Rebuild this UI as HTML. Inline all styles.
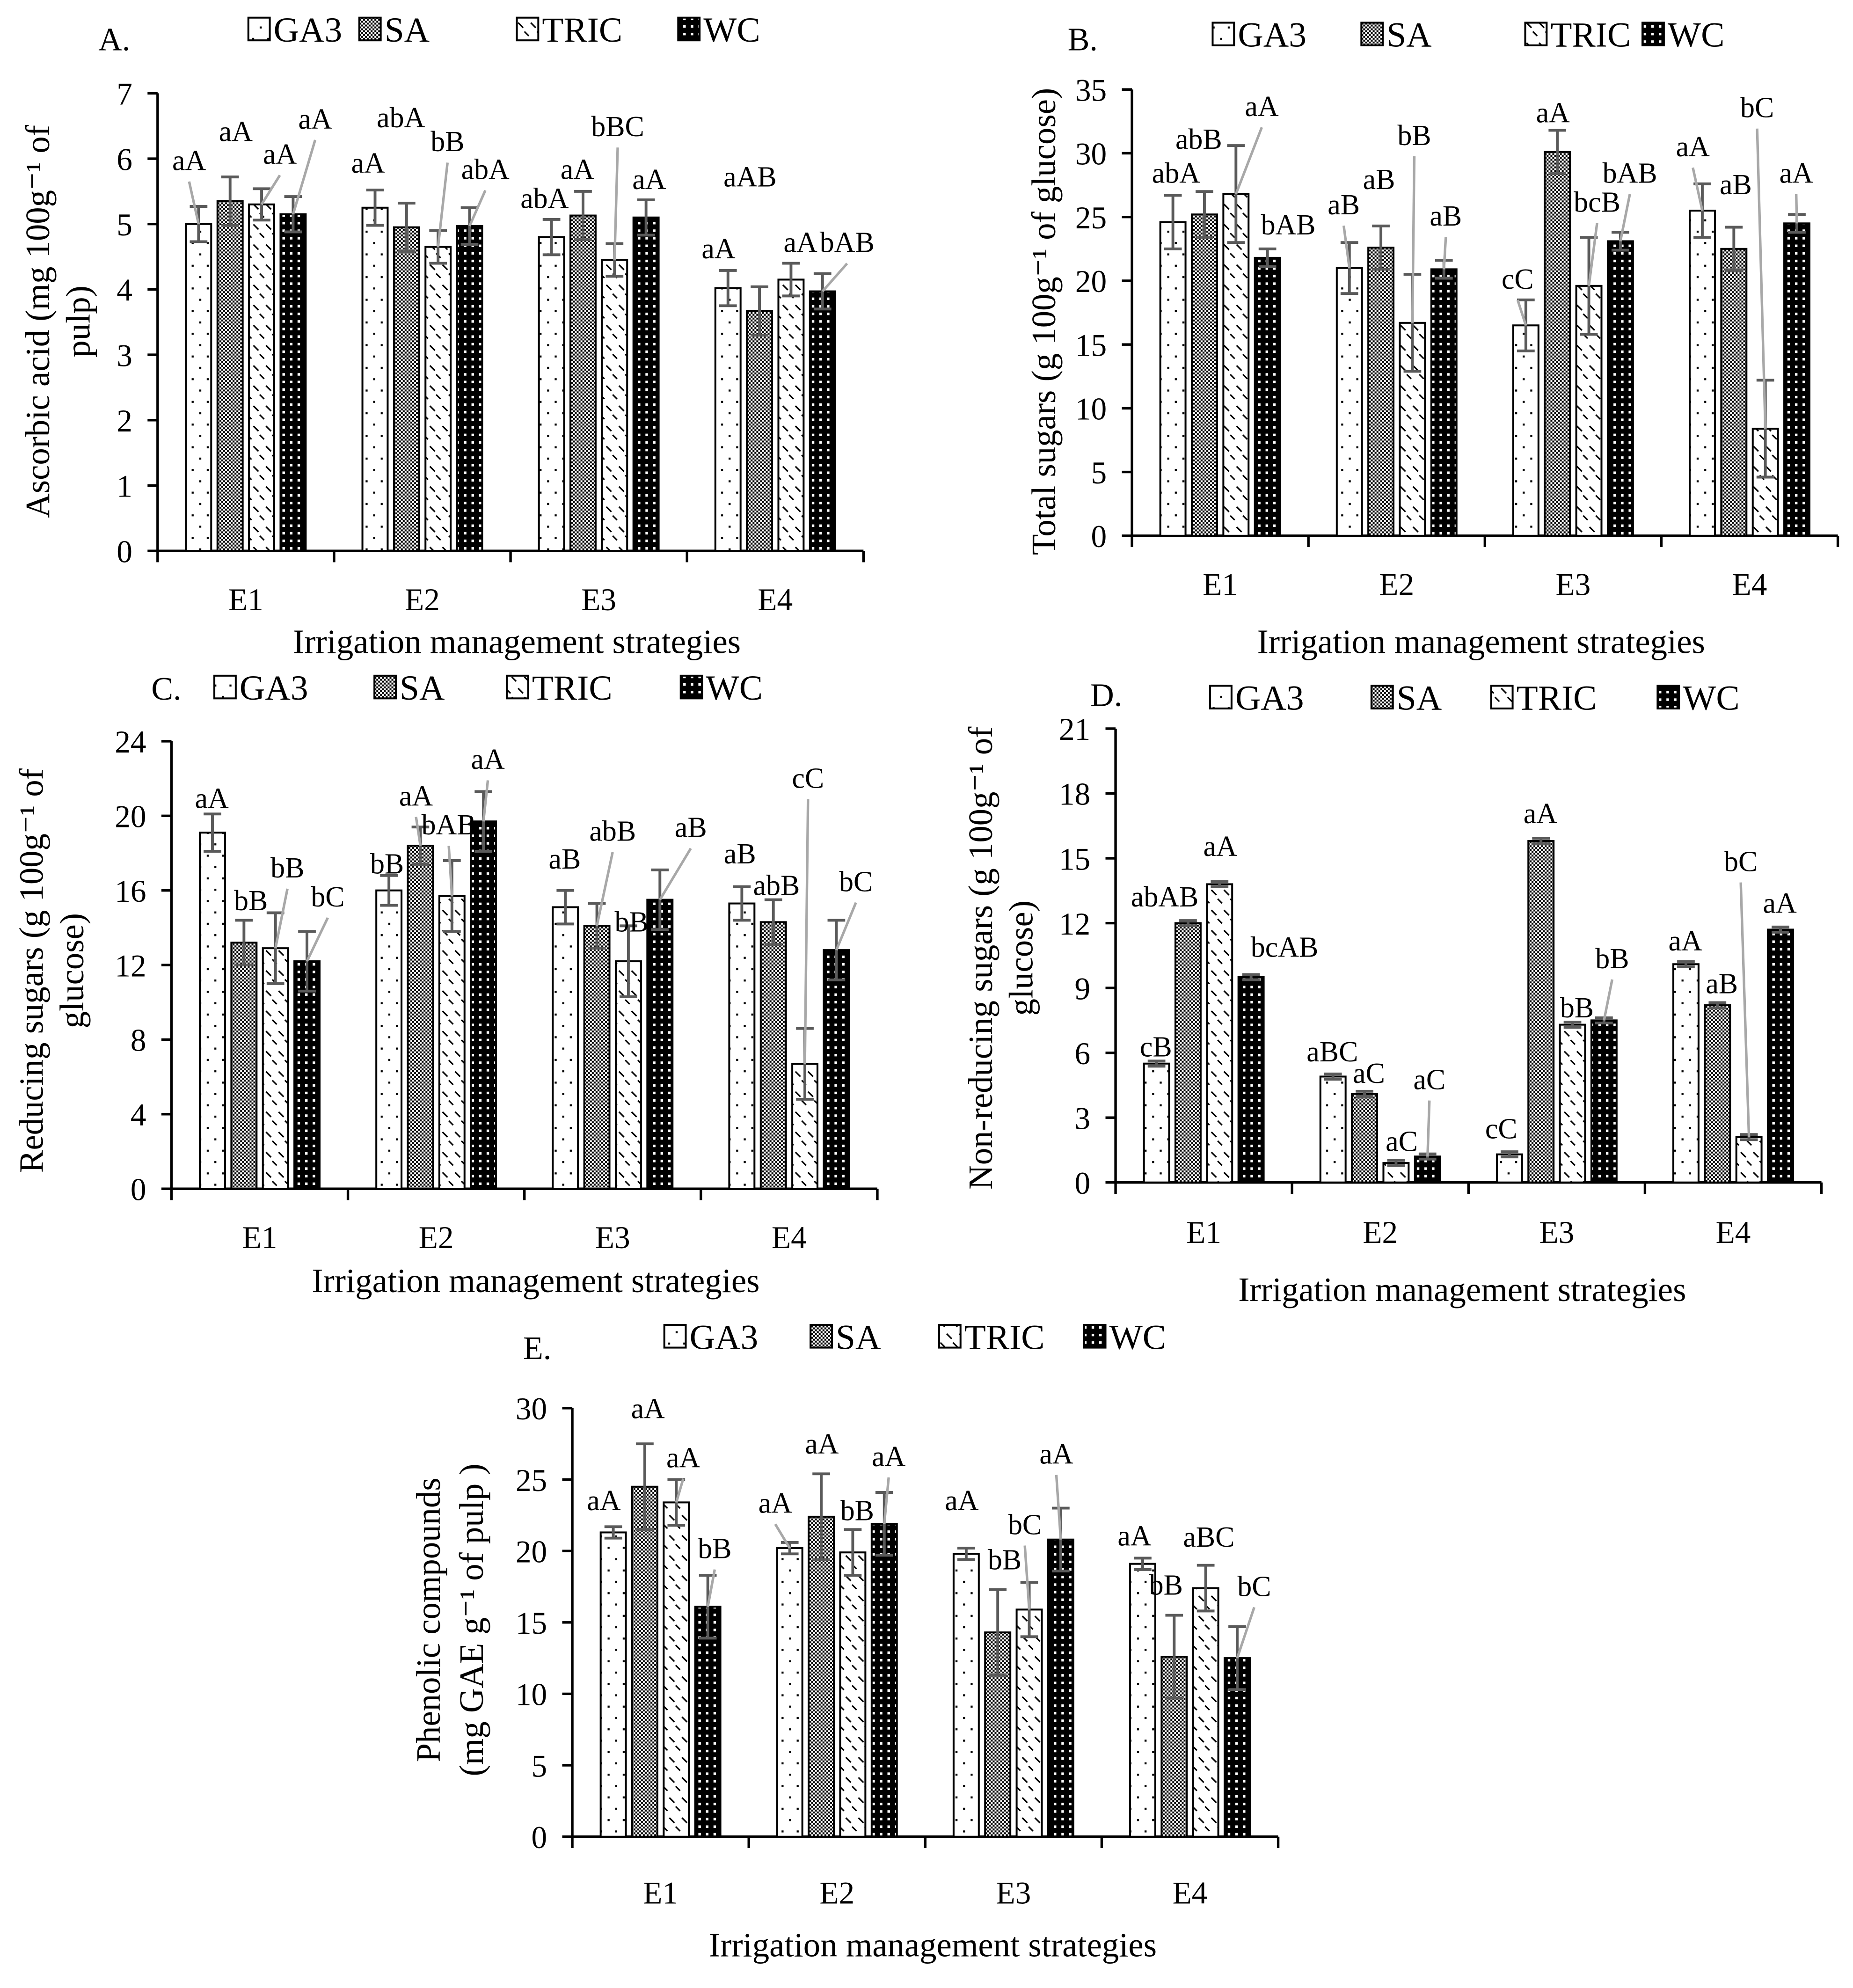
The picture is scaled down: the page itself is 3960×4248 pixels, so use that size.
<!DOCTYPE html>
<html><head><meta charset="utf-8">
<style>
html,body{margin:0;padding:0;background:#fff;}
svg{display:block;}
text{font-family:"Liberation Serif","DejaVu Serif",serif;fill:#000;}
</style></head>
<body>
<svg id="fig" width="3960" height="4248" viewBox="0 0 1470 1577" xmlns="http://www.w3.org/2000/svg">
<defs>
<pattern id="p-ga3" patternUnits="userSpaceOnUse" width="12" height="18"><rect width="12" height="18" fill="#fff"/><rect x="2" y="3" width="1.6" height="1.6" fill="#000"/><rect x="8" y="12" width="1.6" height="1.6" fill="#000"/></pattern>
<pattern id="p-sa" patternUnits="userSpaceOnUse" width="3" height="3"><rect width="3" height="3" fill="#fff"/><rect width="1.5" height="1.5" fill="#000"/><rect x="1.5" y="1.5" width="1.5" height="1.5" fill="#000"/></pattern>
<pattern id="p-tric" patternUnits="userSpaceOnUse" width="10" height="16"><rect width="10" height="16" fill="#fff"/><path d="M1 2 L5 6 M6 9 L9.5 12.5" stroke="#000" stroke-width="1.2"/></pattern>
<pattern id="p-wc" patternUnits="userSpaceOnUse" width="6" height="6"><rect width="6" height="6" fill="#000"/><rect x="2" y="2" width="2" height="2" fill="#fff"/></pattern>
</defs>
</svg>
<script>
const seriesNames = ["GA3","SA","TRIC","WC"];
const categories = ["E1","E2","E3","E4"];

const aValues = [[5.0,5.35,5.3,5.15],[5.25,4.95,4.65,4.97],[4.8,5.13,4.45,5.1],[4.02,3.67,4.15,3.97]];
const aErrors = [[0.27,0.37,0.24,0.27],[0.27,0.37,0.25,0.28],[0.27,0.37,0.25,0.27],[0.27,0.37,0.25,0.27]];
const aLetters = [["aA","aA","aA","aA"],["aA","abA","bB","abA"],["abA","aA","bBC","aA"],["aA","aAB","aA","bAB"]];
const aTicks = [0,1,2,3,4,5,6,7];

const bValues = [[24.6,25.2,26.8,21.8],[21.0,22.6,16.7,20.9],[16.5,30.1,19.6,23.1],[25.5,22.5,8.4,24.5]];
const bErrors = [[2.1,1.8,3.8,0.7],[2.0,1.7,3.8,0.7],[2.0,1.7,3.8,0.7],[2.1,1.7,3.8,0.7]];
const bLetters = [["abA","abB","aA","bAB"],["aB","aB","bB","aB"],["cC","aA","bcB","bAB"],["aA","aB","bC","aA"]];
const bTicks = [0,5,10,15,20,25,30,35];

const cValues = [[19.1,13.2,12.9,12.2],[16.0,18.4,15.7,19.7],[15.1,14.1,12.2,15.5],[15.3,14.3,6.7,12.8]];
const cErrors = [[1.0,1.2,1.9,1.6],[0.8,1.0,1.9,1.6],[0.9,1.2,1.9,1.6],[0.9,1.2,1.9,1.6]];
const cLetters = [["aA","bB","bB","bC"],["bB","aA","bAB","aA"],["aB","abB","bB","aB"],["aB","abB","cC","bC"]];
const cTicks = [0,4,8,12,16,20,24];

const dValues = [[5.5,12.0,13.8,9.5],[4.9,4.1,0.9,1.2],[1.3,15.8,7.3,7.5],[10.1,8.2,2.1,11.7]];
const dErrors = [[0.12,0.12,0.12,0.12],[0.12,0.12,0.12,0.12],[0.12,0.12,0.12,0.12],[0.12,0.12,0.12,0.12]];
const dLetters = [["cB","abAB","aA","bcAB"],["aBC","aC","aC","aC"],["cC","aA","bB","bB"],["aA","aB","bC","aA"]];
const dTicks = [0,3,6,9,12,15,18,21];

const eValues = [[21.3,24.5,23.4,16.1],[20.2,22.4,19.9,21.9],[19.8,14.3,15.9,20.8],[19.1,12.6,17.4,12.5]];
const eErrors = [[0.4,3.0,1.6,2.2],[0.4,3.0,1.6,2.2],[0.4,3.0,1.9,2.2],[0.4,2.9,1.6,2.2]];
const eLetters = [["aA","aA","aA","bB"],["aA","aA","bB","aA"],["aA","bB","bC","aA"],["aA","bB","aBC","bC"]];
const eTicks = [0,5,10,15,20,25,30];

// layout (label anchor positions in px, leader flag) — not data
const layouts = {
 a:{x0:125,y0:437,yTop:74,max:7,lab:[[[150,135,1],[187,112,0],[222,130,1],[250,102,1]],[[292,137,0],[318,101,0],[355,120,1],[385,142,1]],[[432,165,0],[458,142,0],[490,108,1],[515,150,0]],[[570,205,0],[595,148,0],[635,200,0],[672,200,1]]],
   legend:{y:23,sq:[197,285,410,538]},title:["A.",78,40],ytitle:[["Ascorbic acid (mg 100g⁻¹ of",30],["pulp)",62]],yc:255,xtitle:[410,518],xlab:484},
 b:{x0:898,y0:425,yTop:71,max:35,lab:[[[933,145,0],[951,118,0],[1001,92,1],[1022,186,0]],[[1066,170,1],[1094,150,0],[1122,115,1],[1147,179,1]],[[1204,229,1],[1232,97,0],[1267,168,1],[1293,145,1]],[[1343,124,1],[1377,154,0],[1394,93,1],[1425,145,1]]],
   legend:{y:27,sq:[962,1080,1210,1303]},title:["B.",847,40],ytitle:[["Total sugars (g 100g⁻¹ of glucose)",828]],yc:255,xtitle:[1175,518],xlab:472},
 c:{x0:136,y0:943,yTop:588,max:24,lab:[[[168,641,0],[199,722,0],[228,696,1],[260,719,1]],[[307,693,0],[330,639,1],[356,662,1],[387,610,1]],[[448,689,0],[486,667,1],[501,739,0],[548,664,1]],[[587,685,0],[616,710,0],[641,625,1],[679,707,1]]],
   legend:{y:545,sq:[170,297,402,540]},title:["C.",120,555],ytitle:[["Reducing sugars (g 100g⁻¹ of",25],["glucose)",57]],yc:770,xtitle:[425,1025],xlab:990},
 d:{x0:885,y0:938,yTop:578,max:21,lab:[[[917,838,0],[924,719,0],[968,679,0],[1019,759,0]],[[1057,842,0],[1086,859,0],[1112,913,0],[1134,864,1]],[[1191,903,0],[1222,653,0],[1251,807,0],[1279,768,1]],[[1337,754,0],[1366,788,0],[1381,691,1],[1412,724,0]]],
   legend:{y:553,sq:[960,1088,1183,1315]},title:["D.",865,560],ytitle:[["Non-reducing sugars (g 100g⁻¹ of",778],["glucose)",810]],yc:760,xtitle:[1160,1032],xlab:986},
 e:{x0:454,y0:1457,yTop:1117,max:30,lab:[[[479,1198,0],[514,1125,0],[542,1164,1],[567,1236,1]],[[615,1200,1],[652,1153,0],[680,1206,0],[705,1163,1]],[[763,1198,0],[797,1245,0],[813,1217,1],[838,1161,1]],[[900,1226,0],[925,1265,0],[959,1227,0],[995,1266,1]]],
   legend:{y:1060,sq:[527,643,745,860]},title:["E.",415,1078],ytitle:[["Phenolic compounds",340],["(mg GAE g⁻¹ of pulp )",374]],yc:1285,xtitle:[740,1552],xlab:1510}
};
const fills = ["url(#p-ga3)","url(#p-sa)","url(#p-tric)","url(#p-wc)"];
const NS = "http://www.w3.org/2000/svg";
const svg = document.getElementById('fig');
function mk(tag, attrs, parent){ const el=document.createElementNS(NS,tag); for(const k in attrs) el.setAttribute(k,attrs[k]); (parent||svg).appendChild(el); return el; }

function panel(key, values, errors, letters, ticks){
  const L = layouts[key];
  const g = mk('g',{});
  
  
  const catW = 140, x1 = L.x0 + catW*categories.length;
  const yS = v => L.y0 - (v / L.max) * (L.y0 - L.yTop);
  const xC = (ci) => L.x0 + catW*ci + catW/2;
  const xB = (ci, si) => xC(ci) + (si-1.5)*25;
  const t = mk('text',{x:L.title[1],y:L.title[2],'font-size':26},g); t.textContent=L.title[0];
  
  
  seriesNames.forEach((n,i)=>{
    const lg = mk('g',{},g);
    
    
    mk('rect',{x:L.legend.sq[i],y:L.legend.y-9,width:17,height:18,fill:fills[i],stroke:'#000','stroke-width':1.5},lg);
    const tx = mk('text',{x:L.legend.sq[i]+20,y:L.legend.y+10,'font-size':28},lg); tx.textContent=n;
  });
  mk('line',{x1:L.x0,y1:L.yTop,x2:L.x0,y2:L.y0,stroke:'#000','stroke-width':2},g);
  ticks.forEach(tv=>{
    const y=yS(tv);
    mk('line',{x1:L.x0-8,y1:y,x2:L.x0,y2:y,stroke:'#000','stroke-width':2},g);
    const tt=mk('text',{x:L.x0-20,y:y+9,'font-size':25,'text-anchor':'end'},g); tt.textContent=tv;
    
    
  });
  const xa = mk('line',{x1:L.x0,y1:L.y0,x2:x1,y2:L.y0,stroke:'#000','stroke-width':2},g);
  
  
  for(let i=0;i<=categories.length;i++){ const x=L.x0+catW*i; mk('line',{x1:x,y1:L.y0,x2:x,y2:L.y0+9,stroke:'#000','stroke-width':2},g); }
  categories.forEach((c,ci)=>{
    const tt=mk('text',{x:xC(ci),y:L.xlab,'font-size':25,'text-anchor':'middle'},g); tt.textContent=c;
    
    
  });
  const xt=mk('text',{x:L.xtitle[0],y:L.xtitle[1],'font-size':27,'text-anchor':'middle'},g); xt.textContent='Irrigation management strategies';
  
  
  L.ytitle.forEach(([s,x])=>{
    const yt=mk('text',{x:x,y:L.yc,'font-size':27,'text-anchor':'middle',transform:`rotate(-90 ${x} ${L.yc})`,dy:9},g); yt.textContent=s;
    
    
  });
  categories.forEach((c,ci)=>{
    seriesNames.forEach((s,si)=>{
      const v=values[ci][si], e=errors[ci][si];
      const bx=xB(ci,si), top=yS(v);
      const r=mk('rect',{x:bx-10,y:top,width:20,height:L.y0-top,fill:fills[si],stroke:'#000','stroke-width':1.5},g);
      
      
      const eg=mk('g',{stroke:'#5a5a5a','stroke-width':2.2},g);
      
      
      mk('line',{x1:bx,y1:yS(v+e),x2:bx,y2:yS(v-e)},eg);
      mk('line',{x1:bx-7,y1:yS(v+e),x2:bx+7,y2:yS(v+e)},eg);
      mk('line',{x1:bx-7,y1:yS(v-e),x2:bx+7,y2:yS(v-e)},eg);
    });
  });
  categories.forEach((c,ci)=>{
    seriesNames.forEach((s,si)=>{
      const v=values[ci][si];
      const bx=xB(ci,si), top=yS(v);
      const [lx,ly,lead]=L.lab[ci][si];
      if(lead){
        const ll=mk('line',{x1:lx,y1:ly+9,x2:bx,y2:top,stroke:'#a8a8a8','stroke-width':2},g);
        
        
      }
      const lt=mk('text',{x:lx,y:ly,'font-size':23,'text-anchor':'middle'},g); lt.textContent=letters[ci][si];
      
      
    });
  });
}
panel('a',aValues,aErrors,aLetters,aTicks);
panel('b',bValues,bErrors,bLetters,bTicks);
panel('c',cValues,cErrors,cLetters,cTicks);
panel('d',dValues,dErrors,dLetters,dTicks);
panel('e',eValues,eErrors,eLetters,eTicks);
</script>
</body></html>
